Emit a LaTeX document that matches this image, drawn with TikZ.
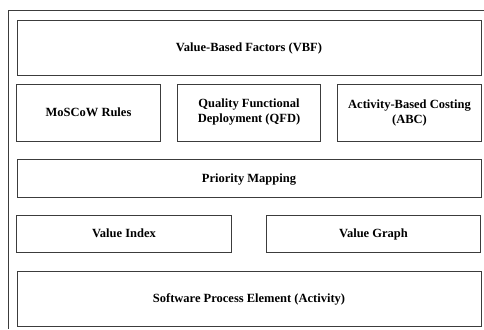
\documentclass[tikz,border=0pt]{standalone}
\usepackage{fontspec}
\setmainfont{Liberation Serif}
\usetikzlibrary{positioning}

\begin{document}
\begin{tikzpicture}[
    x=1pt,y=-1pt,
    every node/.style={draw=linecol,line width=0.9pt,inner sep=0pt,outer sep=0pt,
      font=\fontsize{12.5}{15}\selectfont\bfseries,align=center},
    oneline/.style={text height=8.5pt,text depth=0pt},
    wide/.style={oneline,minimum width=464pt},
    third/.style={minimum width=143.5pt,minimum height=57pt},
    half/.style={oneline,minimum width=214.5pt,minimum height=37pt}
  ]
  \definecolor{linecol}{HTML}{3C3C3C}

  \useasboundingbox (0,0) rectangle (484,329);
  \draw[linecol,line width=0.9pt] (484,10) -- (8,10) -- (8,329);

  \node[wide,minimum height=55pt] at (249,47.5)  (vbf)    {Value-Based Factors (VBF)};
  \node[third,oneline] at (88.5,112.5)  (moscow) {MoSCoW Rules};
  \node[third] at (249,112.5)   (qfd)    {Quality Functional\\Deployment (QFD)};
  \node[third] at (409.5,112.5) (abc)    {Activity-Based Costing\\(ABC)};
  \node[wide,minimum height=38pt] at (249,178)   (prio)   {Priority Mapping};
  \node[half] at (124,233.5)    (vindex) {Value Index};
  \node[half] at (373.5,233.5)  (vgraph) {Value Graph};
  \node[wide,minimum height=55pt] at (249,298.5) (spe)    {Software Process Element (Activity)};
\end{tikzpicture}
\end{document}
